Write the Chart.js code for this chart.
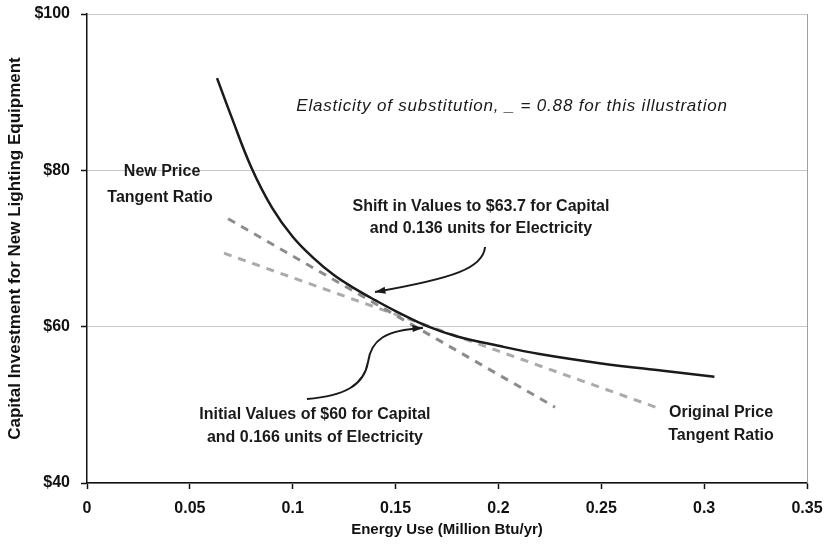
<!DOCTYPE html>
<html>
<head>
<meta charset="utf-8">
<script src="https://cdn.jsdelivr.net/npm/chart.js@4/dist/chart.umd.min.js"></script>
<style>
  html, body { margin: 0; padding: 0; background: #fff; }
  #chart { display: block; }
</style>
</head>
<body>
<canvas id="chart" width="830" height="553"></canvas>
<script>
// isoquant curve
const curveX = [0.0632, 0.07, 0.08, 0.09, 0.10, 0.11, 0.12, 0.13, 0.14, 0.15, 0.166, 0.18, 0.20, 0.22, 0.25, 0.28, 0.305];
const curveY = [91.8, 87.0, 80.3, 75.2, 71.5, 68.8, 66.6, 64.9, 63.4, 62.0, 60.0, 58.75, 57.55, 56.5, 55.3, 54.35, 53.6];

// tangent lines (two end points each)
const newPriceX = [0.0686, 0.2275];
const newPriceY = [73.8, 49.7];
const origPriceX = [0.0666, 0.2786];
const origPriceY = [69.4, 49.5];

const xTicks = [0, 0.05, 0.1, 0.15, 0.2, 0.25, 0.3, 0.35];
const yTicks = [40, 60, 80, 100];

const toPoints = (xs, ys) => xs.map((x, i) => ({ x: x, y: ys[i] }));

// text notes, in data units
const notes = [
    { text: "Elasticity of substitution, _ = 0.88 for this illustration", x: 0.2066, y: 88.2, italic: true },
    { text: "New Price", x: 0.0365, y: 79.8 },
    { text: "Tangent Ratio", x: 0.0355, y: 76.5 },
    { text: "Shift in Values to $63.7 for Capital", x: 0.1915, y: 75.3 },
    { text: "and 0.136 units for Electricity", x: 0.1915, y: 72.5 },
    { text: "Initial Values of $60 for Capital", x: 0.1108, y: 48.7 },
    { text: "and 0.166 units of Electricity", x: 0.1108, y: 45.8 },
    { text: "Original Price", x: 0.3082, y: 48.95 },
    { text: "Tangent Ratio", x: 0.3082, y: 46.1 }
];

// hand drawn arrows: start, then bezier segments (control, control, end), in data units
const arrows = [
    [[0.1935, 70.19], [0.1925, 67.50], [0.1789, 66.22], [0.1400, 64.43]],
    [[0.1069, 50.75], [0.1254, 51.13], [0.1347, 52.54], [0.1366, 55.48],
                      [0.1381, 58.29], [0.1449, 59.57], [0.1633, 59.83]]
];

const notesPlugin = {
    id: "notes",
    afterDatasetsDraw(chart) {
        const ctx = chart.ctx;
        const xs = chart.scales.x, ys = chart.scales.y;
        const area = chart.chartArea;
        ctx.save();

        // grey right edge
        ctx.strokeStyle = "#a0a0a0";
        ctx.lineWidth = 1;
        ctx.beginPath();
        ctx.moveTo(area.right + 0.5, area.top);
        ctx.lineTo(area.right + 0.5, area.bottom);
        ctx.stroke();

        ctx.fillStyle = "#1a1a1a";
        ctx.textAlign = "center";
        ctx.textBaseline = "middle";
        notes.forEach(n => {
            if (n.italic) {
                ctx.font = "italic 17px 'Liberation Sans'";
                ctx.letterSpacing = "0.8px";
            } else {
                ctx.font = "bold 16px 'Liberation Sans'";
                ctx.letterSpacing = "0px";
            }
            ctx.fillText(n.text, xs.getPixelForValue(n.x), ys.getPixelForValue(n.y));
        });
        ctx.letterSpacing = "0px";

        ctx.strokeStyle = "#1a1a1a";
        ctx.lineWidth = 2;
        arrows.forEach(a => {
            const p = a.map(q => [xs.getPixelForValue(q[0]), ys.getPixelForValue(q[1])]);
            ctx.beginPath();
            ctx.moveTo(p[0][0], p[0][1]);
            for (let i = 1; i + 2 < p.length; i += 3) {
                ctx.bezierCurveTo(p[i][0], p[i][1], p[i + 1][0], p[i + 1][1], p[i + 2][0], p[i + 2][1]);
            }
            ctx.stroke();
            const tip = p[p.length - 1], prev = p[p.length - 2];
            const ang = Math.atan2(tip[1] - prev[1], tip[0] - prev[0]);
            ctx.beginPath();
            ctx.moveTo(tip[0], tip[1]);
            ctx.lineTo(tip[0] - 11 * Math.cos(ang - 0.33), tip[1] - 11 * Math.sin(ang - 0.33));
            ctx.lineTo(tip[0] - 11 * Math.cos(ang + 0.33), tip[1] - 11 * Math.sin(ang + 0.33));
            ctx.closePath();
            ctx.fillStyle = "#1a1a1a";
            ctx.fill();
        });
        ctx.restore();
    }
};

const ctx = document.getElementById("chart").getContext("2d");
new Chart(ctx, {
    type: "line",
    data: {
        datasets: [
            {
                label: "Isoquant",
                data: toPoints(curveX, curveY),
                borderColor: "#1a1a1a",
                borderWidth: 2.5,
                pointRadius: 0,
                tension: 0.4,
                fill: false
            },
            {
                label: "New Price Tangent Ratio",
                data: toPoints(newPriceX, newPriceY),
                borderColor: "#8c8c8c",
                borderWidth: 3,
                borderDash: [8, 7],
                pointRadius: 0,
                fill: false
            },
            {
                label: "Original Price Tangent Ratio",
                data: toPoints(origPriceX, origPriceY),
                borderColor: "#ababab",
                borderWidth: 3,
                borderDash: [8, 7],
                pointRadius: 0,
                fill: false
            }
        ]
    },
    options: {
        responsive: false,
        maintainAspectRatio: false,
        animation: false,
        layout: { padding: { top: 14, right: 23, left: 0, bottom: 0 } },
        plugins: {
            legend: { display: false },
            tooltip: { enabled: false }
        },
        scales: {
            x: {
                type: "linear",
                min: 0,
                max: 0.35,
                afterBuildTicks: axis => { axis.ticks = xTicks.map(v => ({ value: v })); },
                afterFit: axis => { axis.height = 70; axis.paddingLeft = 0; axis.paddingRight = 0; },
                ticks: {
                    color: "#111",
                    font: { family: "'Liberation Sans'", size: 16, weight: "bold" },
                    padding: 10,
                    maxRotation: 0,
                    callback: v => String(Number(v.toFixed(2)))
                },
                grid: { drawOnChartArea: false, tickLength: 6, tickColor: "#111", tickWidth: 1.5 },
                border: { color: "#111", width: 1.5 },
                title: {
                    display: true,
                    text: "Energy Use (Million Btu/yr)",
                    color: "#111",
                    font: { family: "'Liberation Sans'", size: 15, weight: "bold" },
                    padding: { top: 4, bottom: 14 }
                }
            },
            y: {
                type: "linear",
                min: 40,
                max: 100,
                afterBuildTicks: axis => { axis.ticks = yTicks.map(v => ({ value: v })); },
                afterFit: axis => { axis.width = 87; axis.paddingTop = 0; axis.paddingBottom = 0; },
                ticks: {
                    color: "#111",
                    font: { family: "'Liberation Sans'", size: 16, weight: "bold" },
                    padding: 11,
                    callback: v => "$" + v
                },
                grid: { color: "#c8c8c8", lineWidth: 1, tickLength: 6, tickColor: "#111", tickWidth: 1.5 },
                border: { color: "#111", width: 1.5 },
                title: {
                    display: true,
                    text: "Capital Investment for New Lighting Equipment",
                    color: "#111",
                    font: { family: "'Liberation Sans'", size: 17, weight: "bold" },
                    padding: { top: 5, bottom: 0 }
                }
            }
        }
    },
    plugins: [notesPlugin]
});
</script>
</body>
</html>
